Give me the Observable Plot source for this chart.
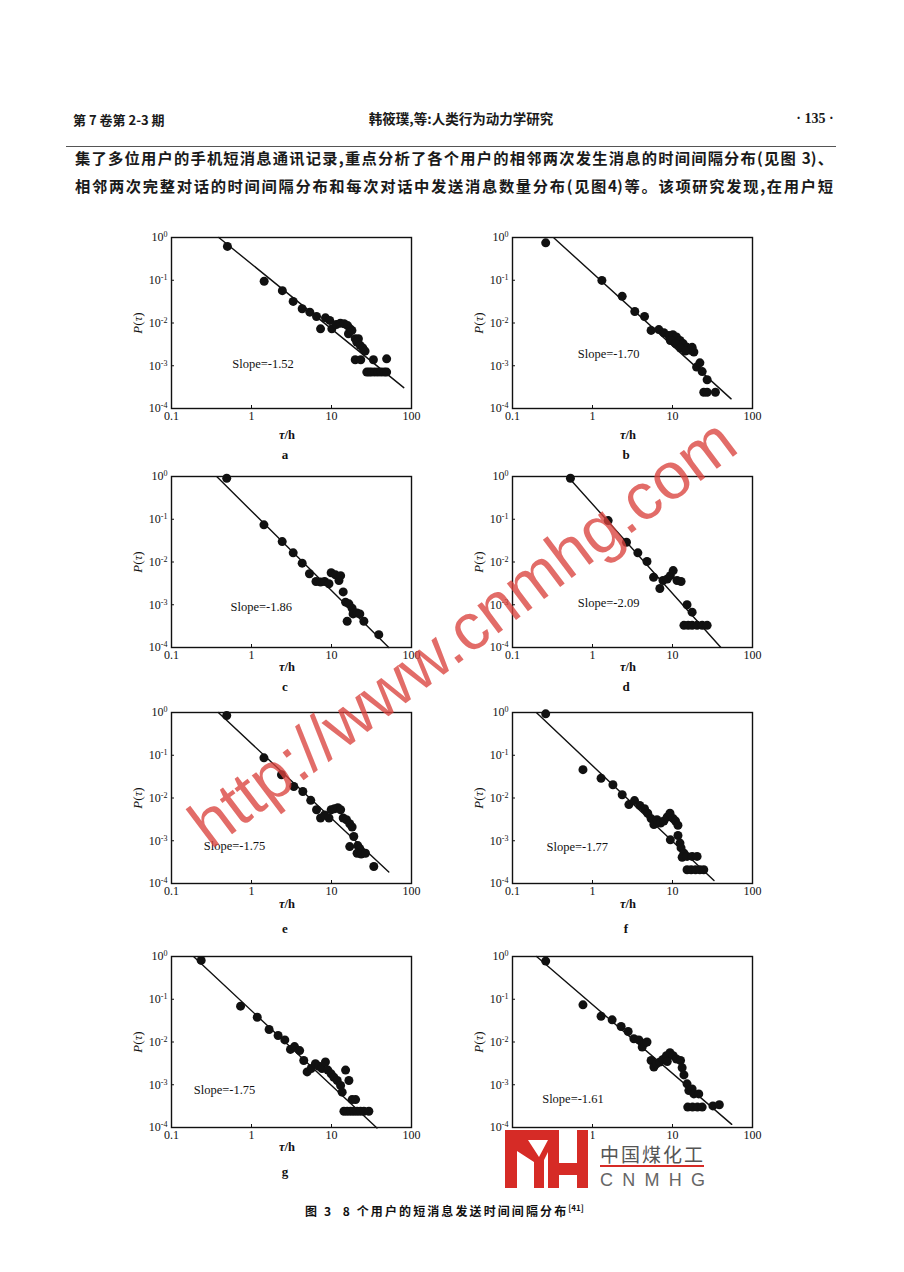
<!DOCTYPE html>
<html><head><meta charset="utf-8">
<script src="https://cdn.jsdelivr.net/npm/d3@7"></script>
<script src="https://cdn.jsdelivr.net/npm/@observablehq/plot@0.6"></script>
<style>
html,body{margin:0;padding:0;background:#fff;}
#page{position:relative;width:904px;height:1272px;overflow:hidden;background:#fff;}
.t{position:absolute;white-space:nowrap;line-height:1;}
.cjk{font-family:"Noto Sans CJK SC",sans-serif;}
.serif{font-family:"Liberation Serif","DejaVu Serif",serif;}
.body{position:absolute;left:75px;width:758px;font-family:"Noto Sans CJK SC",sans-serif;font-size:15.3px;font-weight:bold;color:#1a1a1a;text-align:justify;text-align-last:justify;white-space:nowrap;line-height:1;}
</style></head><body><div id="page"></div>
<script>
// ---------------- data ----------------
const panelLetters = ["a","b","c","d","e","f","g","h"];
const slopeText = ["-1.52","-1.70","-1.86","-2.09","-1.75","-1.77","-1.75","-1.61"];
const fitSlope = [-1.52,-1.70,-1.86,-2.09,-1.75,-1.77,-1.75,-1.61];
const fitAmp   = [0.24,0.148,0.155,0.226,0.188,0.057,0.054,0.075];   // P at tau = 1 h
const fitStart = [0.39,0.33,0.37,0.49,0.385,0.2,0.19,0.2];
const fitEnd   = [80,54,52,40,52,33,37,55];
const xTicks = [0.1,1,10,100];
const yTicks = [1,0.1,0.01,0.001,0.0001];

const tauA = [0.50,1.44,2.43,3.32,4.3,5.36,6.5,7.3,8.4,9.5,10.1,11.5,12.9,14.4,15.9,17.1,16.3,18.0,19.8,21.7,20.7,22.8,24.6,26.3,19.8,23.2,33.4,48.9,27.6,29.5,31.6,34.7,38.0,41.7,45.7,48.9];
const pA   = [0.62,0.095,0.057,0.032,0.0215,0.0179,0.0142,0.0073,0.0132,0.0115,0.0073,0.0092,0.0099,0.0096,0.0087,0.0073,0.0056,0.0067,0.0043,0.0043,0.0036,0.0030,0.0026,0.0022,0.00138,0.00138,0.00138,0.00145,0.00071,0.00071,0.00071,0.00071,0.00071,0.00071,0.00071,0.00071];
const tauB = [0.26,1.31,2.35,3.38,4.47,5.4,6.75,7.8,9.0,10.1,11.2,12.4,13.6,15.2,16.8,18.5,17.6,9.4,10.9,12.6,14.5,20.0,22.0,23.5,27.1,24.6,27.1,34.4];
const pB   = [0.75,0.099,0.042,0.0186,0.0142,0.0067,0.0070,0.0059,0.0051,0.0053,0.0047,0.0039,0.0033,0.0027,0.0023,0.0021,0.0027,0.0039,0.0033,0.0026,0.0022,0.00093,0.00117,0.00073,0.00047,0.00024,0.00024,0.00024];
const tauC = [0.49,1.43,2.42,3.32,4.3,5.3,6.4,7.3,8.2,9.3,9.9,11.2,12.4,13.0,14.0,15.0,16.5,18.1,18.6,20.9,22.6,15.7,25.4,39.0];
const pC   = [0.91,0.074,0.030,0.0164,0.0094,0.0053,0.0035,0.0034,0.0035,0.0031,0.0056,0.0050,0.0037,0.0048,0.0020,0.00115,0.00105,0.00083,0.00061,0.00064,0.00061,0.00041,0.00041,0.00020];
const tauD = [0.53,1.57,2.66,3.69,4.8,5.8,6.95,7.6,8.6,9.4,10.2,11.4,12.8,15.2,17.6,13.9,15.7,17.6,20.3,23.5,27.1];
const pD   = [0.91,0.093,0.029,0.0164,0.0103,0.0044,0.0024,0.0037,0.0040,0.0048,0.0063,0.0037,0.0035,0.0010,0.00067,0.00033,0.00033,0.00033,0.00033,0.00033,0.00033];
const tauE = [0.49,1.43,2.37,3.38,4.38,5.5,6.5,7.3,8.2,9.3,9.9,10.9,12.0,13.0,14.0,15.4,16.9,18.1,19.0,16.9,21.3,22.6,20.9,23.5,26.6,33.8];
const pE   = [0.85,0.087,0.035,0.0186,0.0142,0.0088,0.0053,0.0034,0.0040,0.0034,0.0053,0.0056,0.0059,0.0053,0.0034,0.0031,0.0025,0.0021,0.00126,0.00073,0.00077,0.00065,0.00051,0.00049,0.00051,0.00025];
const tauF = [0.26,0.76,1.28,1.8,2.35,2.85,3.35,3.9,4.47,4.9,5.4,5.85,6.4,7.1,7.8,8.6,9.3,10.2,10.9,11.7,9.4,11.7,12.4,12.8,13.9,13.2,15.2,17.6,20.3,15.2,17.1,19.4,22.0,24.6];
const pF   = [0.93,0.046,0.029,0.0204,0.0119,0.0070,0.0087,0.0067,0.0056,0.0044,0.0033,0.0024,0.0031,0.0026,0.0029,0.0036,0.0044,0.0033,0.0029,0.0023,0.00105,0.00133,0.00088,0.00068,0.00051,0.00041,0.00043,0.00043,0.00043,0.00021,0.00021,0.00021,0.00021,0.00021];
const tauG = [0.235,0.73,1.18,1.66,2.15,2.61,3.07,3.45,4.0,4.5,4.96,5.57,6.3,6.95,7.6,8.4,9.0,9.9,10.7,11.8,13.0,13.6,15.0,16.5,18.1,20.0,14.3,15.7,17.3,19.0,20.9,23.0,25.4,29.3];
const pG   = [0.81,0.069,0.038,0.0196,0.0142,0.0112,0.0067,0.0078,0.0063,0.0037,0.0020,0.0024,0.0031,0.0027,0.0024,0.0034,0.0022,0.0018,0.0015,0.00126,0.00096,0.00067,0.0022,0.00126,0.00045,0.00045,0.00024,0.00024,0.00024,0.00024,0.00024,0.00024,0.00024,0.00024];
const tauH = [0.26,0.76,1.28,1.76,2.28,2.79,3.29,3.8,4.18,4.47,4.8,5.4,5.85,6.3,6.95,7.6,8.4,9.3,10.2,11.2,8.6,12.6,13.2,13.9,15.2,16.0,17.6,18.5,21.3,15.5,17.8,20.5,23.5,32.0,38.5];
const pH   = [0.78,0.074,0.040,0.033,0.023,0.0176,0.0119,0.0112,0.0076,0.0094,0.0100,0.0037,0.0026,0.0031,0.0034,0.0039,0.0048,0.0056,0.0048,0.0040,0.0035,0.0037,0.0025,0.0017,0.00105,0.00073,0.00080,0.00061,0.00061,0.00030,0.00030,0.00030,0.00030,0.00032,0.00034];

const tauAll = [tauA,tauB,tauC,tauD,tauE,tauF,tauG,tauH];
const pAll   = [pA,pB,pC,pD,pE,pF,pG,pH];

// ---------------- layout ----------------
const frameLeft = [171,512];
const frameTop = [237,476,712,956];
const FW = 240, FH = 171;
const xLabelOff = [27,20,21,20];
const letterY = [454,686,928,1171];
const slopePos = [[0.575,-2.955],[0.656,-2.72],[0.546,-3.056],[0.656,-2.955],[0.253,-3.127],[0.266,-3.15],[0.19,-3.134],[0.235,-3.33]];

const page = document.getElementById("page");
function txt(html, x, y, cls, style, anchor){
  const d = document.createElement("div");
  d.className = "t " + (cls||"");
  d.innerHTML = html;
  d.style.left = x + "px"; d.style.top = y + "px";
  const tx = anchor === "start" ? "0" : anchor === "end" ? "-100%" : "-50%";
  d.style.transform = `translate(${tx},-50%)` + (style && style.rot ? ` rotate(${style.rot}deg)` : "");
  if (style) for (const k in style) if (k !== "rot") d.style[k] = style[k];
  page.appendChild(d);
  return d;
}

// header
txt("第 7 卷第 2-3 期", 73, 119, "cjk", {fontSize:"13px", fontWeight:"bold", color:"#1a1a1a"}, "start");
txt("韩筱璞,等:人类行为动力学研究", 461, 119, "cjk", {fontSize:"13.5px", fontWeight:"bold", color:"#1a1a1a"});
txt("· 135 ·", 815, 119, "serif", {fontSize:"14px", fontWeight:"bold", color:"#1a1a1a"});
const rule = document.createElement("div");
Object.assign(rule.style,{position:"absolute",left:"66px",top:"146px",width:"770px",height:"1px",background:"#555"});
page.appendChild(rule);

// body text
const l1 = document.createElement("div"); l1.className="body"; l1.style.top="150px";
l1.textContent = "集了多位用户的手机短消息通讯记录,重点分析了各个用户的相邻两次发生消息的时间间隔分布(见图 3)、";
page.appendChild(l1);
const l2 = document.createElement("div"); l2.className="body"; l2.style.top="178px";
l2.textContent = "相邻两次完整对话的时间间隔分布和每次对话中发送消息数量分布(见图4)等。该项研究发现,在用户短";
page.appendChild(l2);

// panels
const mL = 50, mR = 14, mT = 10, mB = 30;
for (let i = 0; i < 8; i++) {
  const col = i % 2, row = Math.floor(i / 2);
  const fl = frameLeft[col], ft = frameTop[row];
  const pts = tauAll[i].map((t, j) => ({tau: t, P: pAll[i][j]}));
  const fit = [fitStart[i], fitEnd[i]].map(t => ({tau: t, P: fitAmp[i] * Math.pow(t, fitSlope[i])}));
  const lab = [{tau: slopePos[i][0], P: Math.pow(10, slopePos[i][1]), s: "Slope=" + slopeText[i]}];
  const svg = Plot.plot({
    width: FW + mL + mR, height: FH + mT + mB,
    marginLeft: mL, marginRight: mR, marginTop: mT, marginBottom: mB,
    x: {type: "log", domain: [0.1, 100]},
    y: {type: "log", domain: [1e-4, 1]},
    style: {fontFamily: "Liberation Serif, DejaVu Serif, serif", fontSize: "12px", background: "transparent", color: "#111", overflow: "visible"},
    marks: [
      Plot.axisX(xTicks, {tickSize: 0, tickPadding: 3, tickFormat: d => String(d), label: null, fontSize: 12}),
      Plot.axisY(yTicks, {tickSize: 0, tickPadding: 4, tickFormat: d => String(Math.round(Math.log10(d))), label: null, fontSize: 12}),
      Plot.axisX(xTicks, {tickSize: -3, tickFormat: () => "", label: null}),
      Plot.axisY(yTicks, {tickSize: -3, tickFormat: () => "", label: null}),
      Plot.line(fit, {x: "tau", y: "P", stroke: "#111", strokeWidth: 1.4}),
      Plot.dot(pts, {x: "tau", y: "P", r: 4.5, fill: "#111", stroke: "none"}),
      Plot.text(lab, {x: "tau", y: "P", text: "s", textAnchor: "start", fontSize: 12.5, fill: "#111"}),
      Plot.frame({stroke: "#111", strokeWidth: 1.4})
    ]
  });
  // superscript exponents on y tick labels
  d3.select(svg).selectAll('g[aria-label="y-axis tick label"] text').each(function(){
    const t = d3.select(this);
    const e = t.text();
    if (!e) return;
    t.text(null);
    t.append("tspan").text("10");
    t.append("tspan").attr("dy", "-0.5em").attr("font-size", "8").text(e);
  });
  svg.style.position = "absolute";
  svg.style.left = (fl - mL) + "px";
  svg.style.top = (ft - mT) + "px";
  page.appendChild(svg);

  txt("<i>P</i>(<i>τ</i>)", fl - 34, ft + FH / 2, "serif", {fontSize:"13px", color:"#111", rot:-90});
  if (i !== 7) {
    txt("<i>τ</i>/h", fl + 116, ft + FH + xLabelOff[row], "serif", {fontSize:"12.5px", fontWeight:"bold", color:"#111"});
    txt(panelLetters[i], fl + 114, letterY[row], "serif", {fontSize:"13px", fontWeight:"bold", color:"#111"});
  }
}

// caption
txt("图 3&nbsp;&nbsp;8 个用户的短消息发送时间间隔分布<sup style='font-size:8px;letter-spacing:0'>[41]</sup>", 305, 1210, "cjk",
    {fontSize:"12px", fontWeight:"bold", letterSpacing:"2.1px", color:"#111"}, "start");

// watermark
txt("http://www.cnmhg.com", 462, 632, "", {fontFamily:"Liberation Sans, Arial, sans-serif", fontSize:"66px", color:"rgba(218,66,62,0.78)", rot:-37});

// logo
const NS = "http://www.w3.org/2000/svg";
const logo = document.createElementNS(NS, "svg");
logo.setAttribute("width", 215); logo.setAttribute("height", 70);
Object.assign(logo.style, {position:"absolute", left:"500px", top:"1125px"});
logo.innerHTML = `
<rect x="3" y="4" width="88" height="62" fill="#fff"/>
<rect x="95" y="16" width="115" height="50" fill="#fff"/>
<g fill="#d62b26">
<rect x="5" y="5" width="12" height="58"/>
<rect x="5" y="5" width="43" height="10"/>
<polygon points="17,15 28,15 39,32 48,15 48,27 44,35 44,63 34,63 34,37 17,26"/>
<rect x="48" y="5" width="11" height="58"/>
<rect x="59" y="38" width="18" height="12"/>
<rect x="77" y="5" width="11" height="58"/>
</g>
<text x="100" y="37" font-family="Noto Sans CJK SC, sans-serif" font-size="19" fill="#555" textLength="103" lengthAdjust="spacing">中国煤化工</text>
<rect x="100" y="40" width="104" height="2" fill="#d62b26"/>
<text x="100" y="61" font-family="Liberation Sans, Arial, sans-serif" font-size="18" fill="#666" textLength="105" lengthAdjust="spacing">CNMHG</text>`;
page.appendChild(logo);
</script></body></html>
